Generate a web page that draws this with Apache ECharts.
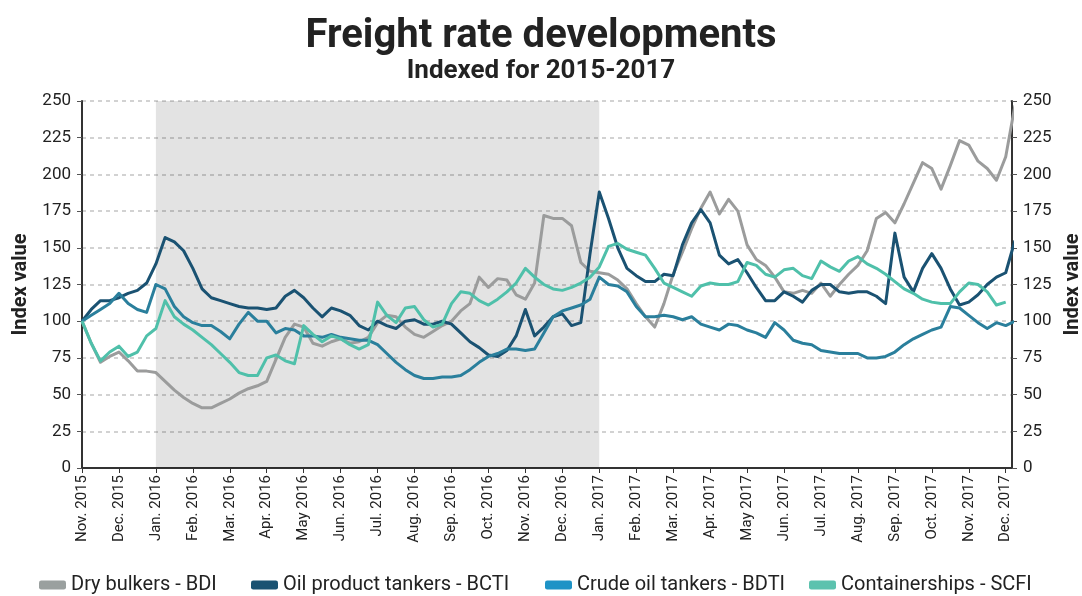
<!DOCTYPE html>
<html>
<head>
<meta charset="utf-8">
<title>Freight rate developments</title>
<script src="https://cdn.jsdelivr.net/npm/echarts@6/dist/echarts.min.js"></script>
<style>
  html, body { margin: 0; padding: 0; background: #ffffff; }
  #chart { width: 1082px; height: 596px; }
</style>
</head>
<body>
<div id="chart"></div>
<script>
// Month tick labels (one tick per month, Nov 2015 .. Dec 2017)
const monthLabels = [
  'Nov. 2015', 'Dec. 2015', 'Jan. 2016', 'Feb. 2016', 'Mar. 2016', 'Apr. 2016',
  'May 2016', 'Jun. 2016', 'Jul. 2016', 'Aug. 2016', 'Sep. 2016', 'Oct. 2016',
  'Nov. 2016', 'Dec. 2016', 'Jan. 2017', 'Feb. 2017', 'Mar. 2017', 'Apr. 2017',
  'May 2017', 'Jun. 2017', 'Jul. 2017', 'Aug. 2017', 'Sep. 2017', 'Oct. 2017',
  'Nov. 2017', 'Dec. 2017'
];

// Series names
const seriesNames = [
  'Dry bulkers - BDI',
  'Oil product tankers - BCTI',
  'Crude oil tankers - BDTI',
  'Containerships - SCFI'
];

// Weekly index values (4 readings per month, first reading = Nov 2015 = 100)
const bdi = [
  100, 85, 72, 76, 79, 73, 66, 66, 65, 59, 53, 48, 44, 41, 41, 44,
  47, 51, 54, 56, 59, 74, 89, 98, 96, 85, 83, 86, 88, 85, 86, 89,
  99, 104, 103, 96, 91, 89, 93, 97, 100, 107, 112, 130, 123, 129, 128, 118,
  115, 126, 172, 170, 170, 165, 140, 134, 133, 132, 128, 122, 112, 103, 96, 112,
  132, 147, 163, 177, 188, 173, 183, 175, 152, 142, 138, 130, 120, 119, 121, 119,
  126, 117, 125, 132, 138, 148, 170, 174, 167, 180, 194, 208, 204, 190, 206, 223,
  220, 209, 204, 196, 212, 247
];

const bcti = [
  100, 108, 114, 114, 116, 119, 121, 126, 139, 157, 154, 148, 136, 122, 116, 114,
  112, 110, 109, 109, 108, 109, 117, 121, 116, 109, 103, 109, 107, 104, 97, 94,
  100, 97, 95, 100, 101, 98, 98, 100, 98, 92, 86, 82, 77, 76, 80, 90,
  108, 90, 96, 103, 105, 97, 99, 146, 188, 170, 150, 136, 131, 127, 127, 132,
  131, 152, 167, 176, 167, 145, 139, 142, 133, 123, 114, 114, 120, 117, 113, 121,
  125, 125, 120, 119, 120, 120, 117, 112, 160, 130, 120, 136, 146, 136, 122, 111,
  113, 118, 125, 130, 133, 155
];

const bdti = [
  100, 104, 108, 112, 119, 112, 108, 106, 125, 122, 110, 103, 99, 97, 97, 93,
  88, 98, 106, 100, 100, 92, 95, 94, 90, 90, 89, 91, 89, 88, 87, 87,
  84, 78, 72, 67, 63, 61, 61, 62, 62, 63, 67, 72, 76, 78, 81, 81,
  80, 81, 92, 103, 107, 109, 111, 115, 130, 125, 124, 120, 110, 103, 103, 104,
  103, 101, 103, 98, 96, 94, 98, 97, 94, 92, 89, 99, 94, 87, 85, 84,
  80, 79, 78, 78, 78, 75, 75, 76, 79, 84, 88, 91, 94, 96, 110, 109,
  104, 99, 95, 99, 97, 100
];

const scfi = [
  100, 85, 73, 79, 83, 76, 79, 90, 95, 114, 103, 98, 94, 89, 84, 78,
  72, 65, 63, 63, 75, 77, 73, 71, 97, 91, 86, 90, 88, 84, 81, 84,
  113, 104, 99, 109, 110, 101, 96, 98, 112, 120, 119, 114, 111, 115, 120, 126,
  136, 130, 125, 122, 121, 123, 126, 130, 137, 151, 153, 149, 147, 145, 136, 126,
  123, 120, 117, 124, 126, 125, 125, 127, 140, 138, 132, 130, 135, 136, 131, 129,
  141, 137, 134, 141, 144, 139, 136, 132, 127, 122, 119, 115, 113, 112, 112, 120,
  126, 125, 120, 111, 113, null
];

// Shaded reference period: Jan 2016 .. Jan 2017 (month positions)
const shadedFrom = 2;
const shadedTo = 14;

const seriesColors = ['#9b9c9c', '#1a5272', '#2a7f9c', '#4fc0aa'];
const legendSymbolColors = ['#9aa09f', '#1a5272', '#1e93c6', '#5cc2ae'];

const READINGS_PER_MONTH = 4;
const toPoints = (values) => values.map((v, i) => [i / READINGS_PER_MONTH, v]);
const seriesValues = [bdi, bcti, bdti, scfi];

const FONT = 'Roboto, "Noto Sans", sans-serif';
const TEXT = '#222222';

const chart = echarts.init(document.getElementById('chart'), null, { renderer: 'canvas' });

const legendLefts = [34, 246, 540, 804];

const yAxisCommon = {
  type: 'value',
  min: 0,
  max: 250,
  interval: 25,
  name: 'Index value',
  nameLocation: 'middle',
  nameTextStyle: { fontFamily: FONT, fontSize: 20, fontWeight: 'bold', color: TEXT },
  axisLine: { show: true, lineStyle: { color: '#333333', width: 2 } },
  axisTick: { show: true, length: 5, lineStyle: { color: '#555555' } },
  axisLabel: { fontFamily: FONT, fontSize: 17, color: TEXT, margin: 11 }
};

const option = {
  backgroundColor: '#ffffff',
  animation: false,
  title: {
    text: 'Freight rate developments',
    subtext: 'Indexed for 2015-2017',
    left: 'center',
    top: 12,
    itemGap: 1,
    textStyle: { fontFamily: FONT, fontSize: 40, fontWeight: 'bold', color: TEXT },
    subtextStyle: { fontFamily: FONT, fontSize: 26, fontWeight: 'bold', color: TEXT }
  },
  legend: seriesNames.map((name, k) => ({
    data: [{ name: name, itemStyle: { color: legendSymbolColors[k] } }],
    left: legendLefts[k],
    top: 570,
    icon: 'roundRect',
    itemWidth: 27,
    itemHeight: 9,
    itemGap: 6,
    selectedMode: false,
    textStyle: { fontFamily: FONT, fontSize: 20, color: TEXT }
  })),
  grid: {
    left: 82, right: 70, top: 101, bottom: 128,
    containLabel: false,
    outerBoundsMode: 'none'
  },
  xAxis: {
    type: 'value',
    min: 0,
    max: 25.17,
    interval: 1,
    axisLine: { show: true, lineStyle: { color: '#333333', width: 2 } },
    axisTick: { show: true, length: 5, lineStyle: { color: '#333333', width: 1 } },
    splitLine: { show: false },
    axisLabel: {
      rotate: 90,
      margin: 7,
      fontFamily: FONT,
      fontSize: 15,
      color: TEXT,
      showMaxLabel: false,
      formatter: (v) => (Number.isInteger(v) && monthLabels[v]) ? monthLabels[v] : ''
    }
  },
  yAxis: [
    Object.assign({}, yAxisCommon, {
      position: 'left',
      nameGap: 50,
      splitLine: { show: true, lineStyle: { color: '#c4c4c4', type: [4, 4], width: 1.5 } }
    }),
    Object.assign({}, yAxisCommon, {
      position: 'right',
      nameGap: 50,
      splitLine: { show: false }
    })
  ],
  series: [
    {
      name: 'shaded period',
      type: 'line',
      data: [],
      silent: true,
      z: 1,
      markArea: {
        silent: true,
        itemStyle: { color: 'rgba(0,0,0,0.11)' },
        data: [[{ xAxis: shadedFrom, yAxis: 0 }, { xAxis: shadedTo, yAxis: 250 }]]
      }
    }
  ].concat(seriesNames.map((name, k) => ({
    name: name,
    type: 'line',
    data: toPoints(seriesValues[k]),
    showSymbol: false,
    symbol: 'none',
    clip: true,
    z: 3,
    color: seriesColors[k],
    lineStyle: { color: seriesColors[k], width: 3, join: 'round' }
  })))
};

chart.setOption(option);
</script>
</body>
</html>
